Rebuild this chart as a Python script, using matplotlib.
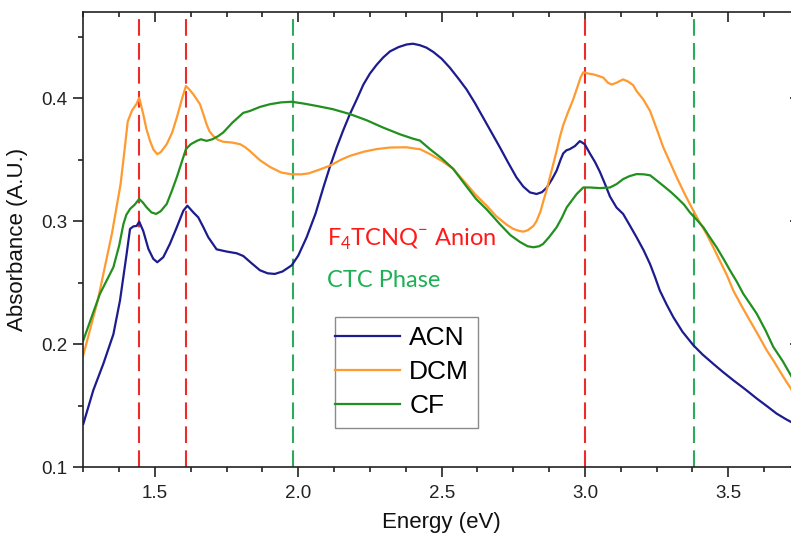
import matplotlib
matplotlib.use("Agg")
import matplotlib.pyplot as plt
from matplotlib.lines import Line2D
from matplotlib.legend_handler import HandlerLine2D
from matplotlib.ticker import MultipleLocator

# Absorbance spectra of F4TCNQ-doped films cast from three solvents
energy_acn = [1.25, 1.285, 1.32, 1.355, 1.378, 1.401, 1.413, 1.425, 1.436, 1.445, 1.459,
              1.477, 1.494, 1.508, 1.529, 1.552, 1.576, 1.599, 1.613, 1.634, 1.651, 1.669,
              1.686, 1.715, 1.75, 1.785, 1.808, 1.837, 1.866, 1.893, 1.918, 1.945, 1.977,
              2.0, 2.029, 2.06, 2.087, 2.11, 2.134, 2.157, 2.18, 2.204, 2.227, 2.25, 2.273,
              2.296, 2.32, 2.35, 2.378, 2.40, 2.424, 2.447, 2.471, 2.50, 2.529, 2.558, 2.587,
              2.616, 2.645, 2.674, 2.703, 2.732, 2.761, 2.785, 2.808, 2.831, 2.85, 2.866,
              2.885, 2.901, 2.915, 2.924, 2.935, 2.947, 2.965, 2.982, 2.999, 3.017, 3.035,
              3.052, 3.07, 3.087, 3.11, 3.133, 3.155, 3.18, 3.205, 3.227, 3.245, 3.261,
              3.285, 3.308, 3.34, 3.378, 3.41, 3.447, 3.48, 3.517, 3.56, 3.599, 3.634,
              3.668, 3.70, 3.718, 3.75]
abs_acn = [0.135, 0.1625, 0.184, 0.208, 0.2354, 0.273, 0.2936, 0.2957, 0.296, 0.2995, 0.292,
           0.2774, 0.2693, 0.2665, 0.2706, 0.2814, 0.2949, 0.3084, 0.3125, 0.307, 0.303, 0.2949,
           0.2868, 0.277, 0.2752, 0.2738, 0.2716, 0.2657, 0.26, 0.2575, 0.257, 0.259, 0.264,
           0.272, 0.2868, 0.306, 0.327, 0.344, 0.36, 0.374, 0.387, 0.399, 0.411, 0.42, 0.427,
           0.433, 0.438, 0.4415, 0.4436, 0.4442, 0.443, 0.441, 0.4375, 0.432, 0.4246, 0.416, 0.407,
           0.396, 0.384, 0.372, 0.36, 0.3475, 0.3355, 0.328, 0.3233, 0.322, 0.3235, 0.327,
           0.334, 0.341, 0.350, 0.355, 0.3575, 0.3585, 0.361, 0.365, 0.3625, 0.355, 0.348,
           0.340, 0.33, 0.320, 0.311, 0.3058, 0.297, 0.2868, 0.276, 0.265, 0.254, 0.2435,
           0.232, 0.2219, 0.21, 0.199, 0.1915, 0.184, 0.1775, 0.1706, 0.163, 0.1557, 0.1496,
           0.1435, 0.139, 0.1367, 0.1325]

energy_dcm = [1.25, 1.30, 1.35, 1.38, 1.395, 1.405, 1.42, 1.435, 1.445, 1.459, 1.47, 1.483,
              1.495, 1.508, 1.52, 1.541, 1.56, 1.576, 1.595, 1.608, 1.62, 1.634, 1.657, 1.67,
              1.68, 1.69, 1.703, 1.72, 1.738, 1.77, 1.797, 1.815, 1.831, 1.866, 1.901, 1.94,
              1.977, 2.01, 2.035, 2.07, 2.11, 2.15, 2.18, 2.23, 2.273, 2.32, 2.378, 2.41,
              2.424, 2.459, 2.50, 2.54, 2.587, 2.62, 2.657, 2.69, 2.727, 2.75, 2.773, 2.785,
              2.80, 2.82, 2.831, 2.845, 2.857, 2.866, 2.878, 2.889, 2.90, 2.912, 2.924, 2.94,
              2.959, 2.975, 2.985, 2.994, 3.01, 3.029, 3.05, 3.064, 3.08, 3.093, 3.11, 3.133,
              3.15, 3.168, 3.18, 3.203, 3.227, 3.25, 3.273, 3.30, 3.32, 3.35, 3.378, 3.40,
              3.424, 3.45, 3.47, 3.495, 3.517, 3.545, 3.575, 3.605, 3.634, 3.66, 3.692, 3.718,
              3.75]
abs_dcm = [0.191, 0.235, 0.29, 0.33, 0.36, 0.381, 0.39, 0.395, 0.4003, 0.387, 0.375, 0.365,
           0.358, 0.3544, 0.356, 0.3625, 0.372, 0.384, 0.400, 0.4098, 0.407, 0.403, 0.395, 0.386,
           0.3787, 0.373, 0.3693, 0.366, 0.3645, 0.3638, 0.3625, 0.36, 0.357, 0.3495, 0.344, 0.3395,
           0.338, 0.338, 0.3387, 0.3415, 0.345, 0.35, 0.353, 0.3565, 0.3585, 0.3598, 0.360, 0.3588,
           0.3585, 0.3545, 0.349, 0.3425, 0.330, 0.321, 0.3125, 0.304, 0.297, 0.2936, 0.2918, 0.2914,
           0.2925, 0.296, 0.300, 0.308, 0.318, 0.325, 0.336, 0.346, 0.356, 0.368, 0.378, 0.388,
           0.399, 0.410, 0.417, 0.421, 0.420, 0.4193, 0.4178, 0.4166, 0.4125, 0.411, 0.4125, 0.4152,
           0.4135, 0.4105, 0.4057, 0.399, 0.3895, 0.375, 0.360, 0.346, 0.3355, 0.321, 0.3084, 0.299,
           0.2895, 0.2775, 0.2679, 0.256, 0.2436, 0.2315, 0.2192, 0.207, 0.1949, 0.1855, 0.1732, 0.1638,
           0.152]

energy_cf = [1.25, 1.308, 1.355, 1.375, 1.39, 1.40, 1.413, 1.43, 1.445, 1.458, 1.471, 1.488,
             1.504, 1.52, 1.541, 1.558, 1.576, 1.592, 1.608, 1.625, 1.646, 1.66, 1.68, 1.70,
             1.72, 1.738, 1.77, 1.808, 1.831, 1.866, 1.901, 1.94, 1.977, 2.02, 2.064, 2.12,
             2.18, 2.238, 2.296, 2.355, 2.40, 2.424, 2.459, 2.50, 2.54, 2.587, 2.62, 2.657,
             2.703, 2.74, 2.773, 2.80, 2.82, 2.84, 2.854, 2.875, 2.901, 2.92, 2.936, 2.955,
             2.971, 2.994, 3.017, 3.052, 3.087, 3.11, 3.133, 3.155, 3.18, 3.205, 3.227, 3.25,
             3.273, 3.30, 3.32, 3.345, 3.366, 3.39, 3.413, 3.435, 3.459, 3.485, 3.506, 3.53,
             3.552, 3.575, 3.599, 3.63, 3.657, 3.69, 3.718, 3.75]
abs_cf = [0.203, 0.2408, 0.2625, 0.28, 0.2976, 0.305, 0.3098, 0.3135, 0.318, 0.315, 0.3111, 0.307,
          0.3058, 0.308, 0.3139, 0.324, 0.3355, 0.347, 0.3585, 0.3625, 0.3652, 0.3665, 0.3652, 0.3665,
          0.369, 0.372, 0.380, 0.388, 0.3895, 0.3928, 0.395, 0.3965, 0.397, 0.3955, 0.3936, 0.391,
          0.387, 0.382, 0.376, 0.3705, 0.367, 0.3655, 0.3585, 0.351, 0.3425, 0.328, 0.318, 0.3095,
          0.2975, 0.2885, 0.283, 0.2795, 0.2787, 0.2795, 0.2814, 0.287, 0.2949, 0.303, 0.311, 0.317,
          0.322, 0.3273, 0.3273, 0.3268, 0.3273, 0.330, 0.3341, 0.3365, 0.3382, 0.338, 0.3372, 0.333,
          0.3287, 0.3235, 0.3192, 0.3135, 0.307, 0.301, 0.2949, 0.287, 0.2787, 0.2685, 0.2598, 0.2505,
          0.2409, 0.233, 0.2247, 0.211, 0.1976, 0.186, 0.1746, 0.162]

series_labels = ["ACN", "DCM", "CF"]
anion_energies = [1.445, 1.607, 3.0]   # F4TCNQ anion transitions
ctc_energies = [1.98, 3.38]            # charge-transfer complex transitions

plt.rcParams['font.family'] = ['Liberation Sans', 'DejaVu Sans']
plt.rcParams['mathtext.fontset'] = 'custom'
plt.rcParams['mathtext.rm'] = 'Lato'

W, H = 791, 535
fig = plt.figure(figsize=(W / 100, H / 100), dpi=100)
left, right, top, bottom = 83.3, 800.0, 12.0, 467.0
ax = fig.add_axes([left / W, 1 - bottom / H, (right - left) / W, (bottom - top) / H])

c_acn, c_dcm, c_cf = '#1c1c8e', '#ff9a30', '#22901f'
lw = 1.6
h1, = ax.plot(energy_acn, abs_acn, color=c_acn, lw=lw)
h2, = ax.plot(energy_dcm, abs_dcm, color=c_dcm, lw=lw)
h3, = ax.plot(energy_cf, abs_cf, color=c_cf, lw=lw)

dash = (0, (8, 3.5))
for e in anion_energies:
    ax.axvline(e, color='#ee2b2b', lw=1.5, ls=dash, zorder=1)
for e in ctc_energies:
    ax.axvline(e, color='#2eaa5c', lw=1.5, ls=dash, zorder=1)

ax.set_xlim(1.25, 3.75)
ax.set_ylim(0.1, 0.47)
ax.xaxis.set_major_locator(MultipleLocator(0.5))
ax.xaxis.set_minor_locator(MultipleLocator(0.125))
ax.yaxis.set_major_locator(MultipleLocator(0.1))
ax.yaxis.set_minor_locator(MultipleLocator(0.05))

spine_c = '#222222'
for s in ax.spines.values():
    s.set_linewidth(1.2)
    s.set_color(spine_c)
ax.tick_params(axis='both', which='major', direction='out', length=7.2, width=1.2,
               color=spine_c, labelcolor='#222222', labelsize=13.5)
ax.tick_params(axis='both', which='minor', direction='out', length=3.6, width=1.2, color=spine_c)
ax.tick_params(axis='x', which='major', pad=6)
ax.tick_params(axis='y', which='major', pad=4)

# inward ticks along the top and right edges
sec_x = ax.secondary_xaxis('top')
sec_y = ax.secondary_yaxis('right')
for sec in (sec_x, sec_y):
    sec.spines[:].set_visible(False)
    sec.tick_params(which='major', direction='in', length=7.2, width=1.2, color=spine_c,
                    labeltop=False, labelright=False, labelbottom=False, labelleft=False)
    sec.tick_params(which='minor', direction='in', length=3.6, width=1.2, color=spine_c)
sec_x.xaxis.set_major_locator(MultipleLocator(0.5))
sec_x.xaxis.set_minor_locator(MultipleLocator(0.125))
sec_y.yaxis.set_major_locator(MultipleLocator(0.1))
sec_y.yaxis.set_minor_locator(MultipleLocator(0.05))

ax.set_xlabel('Energy (eV)', fontsize=16, color='#111111', labelpad=7)
ax.set_ylabel('Absorbance (A.U.)', fontsize=16, color='#111111', labelpad=10)

ax.text(2.099, 0.28, r'F$_\mathregular{4}$TCNQ$^\mathregular{-}$ Anion', color='#ff1a1a',
        fontsize=17, family='Lato', va='baseline', ha='left')
ax.text(2.099, 0.2462, 'CTC Phase', color='#1db054', fontsize=17, family='Lato',
        va='baseline', ha='left')

leg = ax.legend([h1, h2, h3], series_labels, loc='upper left',
                bbox_to_anchor=(335 / W, 1 - 317 / H), bbox_transform=fig.transFigure,
                fontsize=19, frameon=True, fancybox=False, framealpha=1,
                borderpad=0.35, borderaxespad=0, handlelength=2.115, handletextpad=0.35,
                labelspacing=0.38, handler_map={Line2D: HandlerLine2D(xpad=-0.35)})
leg.get_frame().set_edgecolor('#8a8a8a')
leg.get_frame().set_linewidth(1.0)

fig.savefig('out.png', dpi=100)
